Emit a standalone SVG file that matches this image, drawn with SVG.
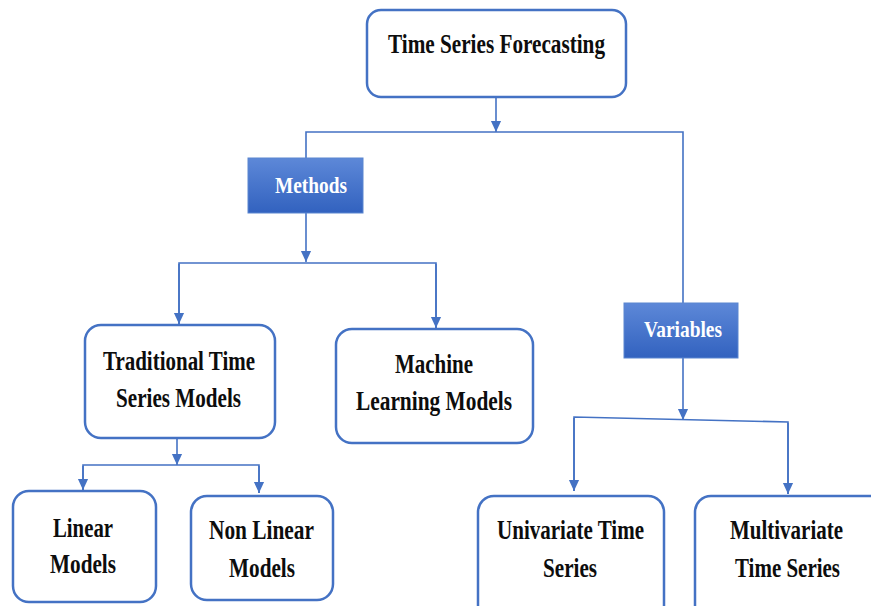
<svg xmlns="http://www.w3.org/2000/svg" width="871" height="606" viewBox="0 0 871 606">
<style>
.box{fill:#ffffff;stroke:#4472C4;stroke-width:2.5}
.blue{stroke:#5a86d0;stroke-width:1}
.t{font-family:"Liberation Serif","Times New Roman",serif;font-weight:bold;font-size:27px;fill:#0d0d0d;text-anchor:middle}
.w{font-family:"Liberation Serif","Times New Roman",serif;font-weight:bold;font-size:24px;fill:#ffffff;text-anchor:middle}
.c{fill:none;stroke:#4472C4;stroke-width:1.6}
</style>
<defs>
<linearGradient id="g" x1="0" y1="0" x2="0" y2="1">
<stop offset="0" stop-color="#5d88d8"/>
<stop offset="1" stop-color="#3262bf"/>
</linearGradient>
<marker id="ad" markerUnits="userSpaceOnUse" markerWidth="12" markerHeight="14" refX="13" refY="6" orient="auto" viewBox="0 0 14 12">
<path d="M0,0 L13,6 L0,12 Z" fill="#4472C4"/>
</marker>
</defs>
<g id="connectors">
<path class="c" d="M496,97 V132" marker-end="url(#ad)"/>
<path class="c" d="M306,158 V132 H683 V303"/>
<path class="c" d="M306,213 V262" marker-end="url(#ad)"/>
<path class="c" d="M179,325 V263 H436 V329"/>
<path class="c" d="M179,264 V324" marker-end="url(#ad)"/>
<path class="c" d="M436,264 V328" marker-end="url(#ad)"/>
<path class="c" d="M177,438 V465" marker-end="url(#ad)"/>
<path class="c" d="M83,490 V465 H259 V493"/>
<path class="c" d="M83,466 V490" marker-end="url(#ad)"/>
<path class="c" d="M259,466 V493" marker-end="url(#ad)"/>
<path class="c" d="M683,358 V420" marker-end="url(#ad)"/>
<path class="c" d="M574,491 V417 L788,422 V494"/>
<path class="c" d="M574,418 V491" marker-end="url(#ad)"/>
<path class="c" d="M788,423 V494" marker-end="url(#ad)"/>
</g>
<g id="n-forecast">
<rect class="box" x="367" y="10" width="259" height="87" rx="14"/>
<text class="t" x="496.5" y="53" font-size="28" textLength="217" lengthAdjust="spacingAndGlyphs">Time Series Forecasting</text>
</g>
<g id="n-methods">
<rect x="248" y="158" width="115" height="55" fill="url(#g)" class="blue"/>
<text class="w" x="311" y="193" textLength="72" lengthAdjust="spacingAndGlyphs">Methods</text>
</g>
<g id="n-variables">
<rect x="624" y="303" width="114" height="55" fill="url(#g)" class="blue"/>
<text class="w" x="683" y="337" textLength="78" lengthAdjust="spacingAndGlyphs">Variables</text>
</g>
<g id="n-traditional">
<rect class="box" x="85" y="325" width="190" height="113" rx="16"/>
<text class="t" x="179" y="370" textLength="152" lengthAdjust="spacingAndGlyphs">Traditional Time</text>
<text class="t" x="178.5" y="407" textLength="125" lengthAdjust="spacingAndGlyphs">Series Models</text>
</g>
<g id="n-ml">
<rect class="box" x="336" y="329" width="197" height="114" rx="16"/>
<text class="t" x="434" y="373" textLength="78" lengthAdjust="spacingAndGlyphs">Machine</text>
<text class="t" x="434" y="410" textLength="156" lengthAdjust="spacingAndGlyphs">Learning Models</text>
</g>
<g id="n-linear">
<rect class="box" x="13" y="491" width="143" height="111" rx="16"/>
<text class="t" x="83" y="537" textLength="60" lengthAdjust="spacingAndGlyphs">Linear</text>
<text class="t" x="83" y="573" textLength="66" lengthAdjust="spacingAndGlyphs">Models</text>
</g>
<g id="n-nonlinear">
<rect class="box" x="191" y="496" width="142" height="104" rx="16"/>
<text class="t" x="261.5" y="539" textLength="105" lengthAdjust="spacingAndGlyphs">Non Linear</text>
<text class="t" x="262" y="577" textLength="66" lengthAdjust="spacingAndGlyphs">Models</text>
</g>
<g id="n-univariate">
<path class="box" d="M478,606 V512 A16,16 0 0 1 494,496 H648 A16,16 0 0 1 664,512 V606"/>
<text class="t" x="570.5" y="539" textLength="147" lengthAdjust="spacingAndGlyphs">Univariate Time</text>
<text class="t" x="570" y="577" textLength="54" lengthAdjust="spacingAndGlyphs">Series</text>
</g>
<g id="n-multivariate">
<path class="box" d="M695,606 V512 A16,16 0 0 1 711,496 H871"/>
<text class="t" x="786.5" y="539" textLength="113" lengthAdjust="spacingAndGlyphs">Multivariate</text>
<text class="t" x="787.5" y="577" textLength="105" lengthAdjust="spacingAndGlyphs">Time Series</text>
</g>
</svg>
